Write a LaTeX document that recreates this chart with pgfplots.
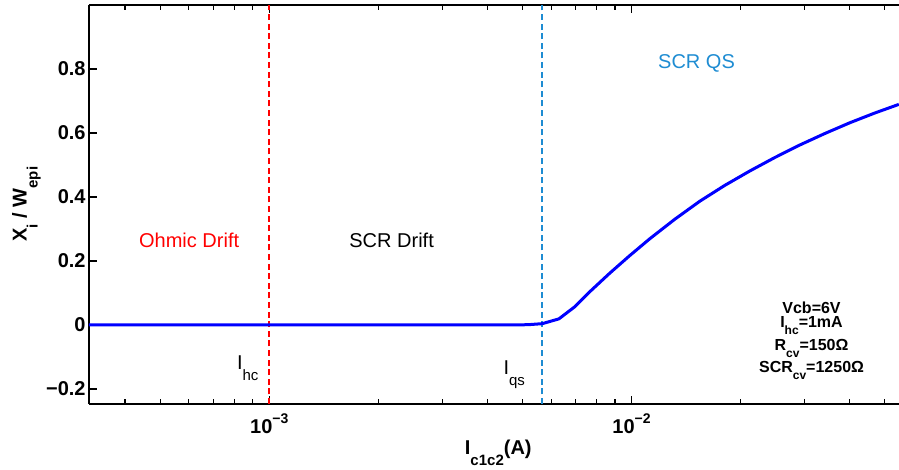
\documentclass[border=0pt]{standalone}
\usepackage{pgfplots}
\pgfplotsset{compat=1.18}
\usepackage{fontspec}
\setmainfont{Liberation Sans}
\definecolor{qsblue}{RGB}{30,140,210}
\newcommand{\sub}[1]{\raisebox{-0.55em}{\fontsize{7.5}{8}\selectfont #1}}
\newcommand{\ssub}[1]{\raisebox{-0.45em}{\fontsize{6}{7}\selectfont #1}}
\newcommand{\supx}[1]{\raisebox{5pt}{\fontsize{7}{8}\selectfont #1}}
\begin{document}
\begin{tikzpicture}
\begin{axis}[
  scale only axis, width=405pt, height=199.5pt,
  xmode=log, xmin=3.18e-4, xmax=0.0547, ymin=-0.247, ymax=1.0,
  axis x line*=box, axis y line*=left,
  axis line style={line width=1pt},
  tick align=inside,
  major tick length=4pt, minor tick length=2.5pt,
  every tick/.style={black, line width=0.6pt},
  xtick={1e-3,1e-2},
  xticklabels={10\supx{−3},10\supx{−2}},
  minor xtick={4e-4,5e-4,6e-4,7e-4,8e-4,9e-4,2e-3,3e-3,4e-3,5e-3,6e-3,7e-3,8e-3,9e-3,2e-2,3e-2,4e-2,5e-2},
  ytick={-0.2,0,0.2,0.4,0.6,0.8},
  yticklabels={−0.2,0,0.2,0.4,0.6,0.8},
  ticklabel style={font=\bfseries\fontsize{10}{12}\selectfont},
  /pgf/number format/assume math mode=true,
  yticklabel style={inner sep=0pt, xshift=-1.5pt},
  xticklabel style={inner sep=0pt, yshift=-4.5pt},
  xlabel={I\sub{c1c2}(A)},
  ylabel={X\sub{i} / W\sub{epi}},
  label style={font=\bfseries\fontsize{10}{12}\selectfont},
  xlabel style={at={(axis description cs:0.5053,-0.1278)}, anchor=base},
  ylabel style={at={(axis description cs:-0.0769,0.501)}, anchor=base},
]
\coordinate (ll) at (rel axis cs:0,0);
\coordinate (ur) at (rel axis cs:1,1);
\addplot[red, line width=1pt, dash pattern=on 3pt off 1.8pt] coordinates {(1e-3,-0.247) (1e-3,1.0)};
\addplot[qsblue, line width=1pt, dash pattern=on 3pt off 1.8pt] coordinates {(5.666e-3,-0.247) (5.666e-3,1.0)};
\addplot[blue, line width=1.5pt, line join=round] coordinates {
(3.18e-4,0) (1e-3,0) (4.8e-3,0) (5.2e-3,0.001) (5.666e-3,0.004)
(6.30e-3,0.019) (6.975e-3,0.0572) (7.672e-3,0.1041) (8.710e-3,0.1622)
(9.893e-3,0.2172) (1.1233e-2,0.2697) (1.3166e-2,0.3306) (1.5433e-2,0.3869)
(1.8087e-2,0.4363) (2.1204e-2,0.4813) (2.4856e-2,0.5234) (2.9133e-2,0.5625)
(3.4156e-2,0.5984) (4.0036e-2,0.6320) (4.6927e-2,0.6625) (5.4645e-2,0.6894)};
\node[anchor=base, text=red, font=\fontsize{10}{12}\selectfont] at (axis cs:6.01e-4,0.2416) {Ohmic Drift};
\node[anchor=base, font=\fontsize{10}{12}\selectfont] at (axis cs:2.176e-3,0.2416) {SCR Drift};
\node[anchor=base, text=qsblue, font=\fontsize{10}{12}\selectfont] at (axis cs:1.511e-2,0.802) {SCR QS};
\node[anchor=base west, inner sep=0pt, font=\fontsize{10}{12}\selectfont] at (axis cs:8.13e-4,-0.1384) {I\sub{hc}};
\node[anchor=base west, inner sep=0pt, font=\fontsize{10}{12}\selectfont] at (axis cs:4.42e-3,-0.154) {I\sub{qs}};
\node[anchor=base, inner sep=0pt, font=\bfseries\fontsize{8}{9}\selectfont] at (axis cs:3.138e-2,0.0365) {Vcb=6V};
\node[anchor=base, inner sep=0pt, font=\bfseries\fontsize{8}{9}\selectfont] at (axis cs:3.138e-2,-0.0084) {I\ssub{hc}=1mA};
\node[anchor=base, inner sep=0pt, font=\bfseries\fontsize{8}{9}\selectfont] at (axis cs:3.138e-2,-0.0803) {R\ssub{cv}=150Ω};
\node[anchor=base, inner sep=0pt, font=\bfseries\fontsize{8}{9}\selectfont] at (axis cs:3.138e-2,-0.1491) {SCR\ssub{cv}=1250Ω};
\end{axis}
\pgfresetboundingbox
\path ([xshift=-44.5pt,yshift=-33pt]ll) rectangle ([yshift=2.5pt]ur);
\end{tikzpicture}
\end{document}
